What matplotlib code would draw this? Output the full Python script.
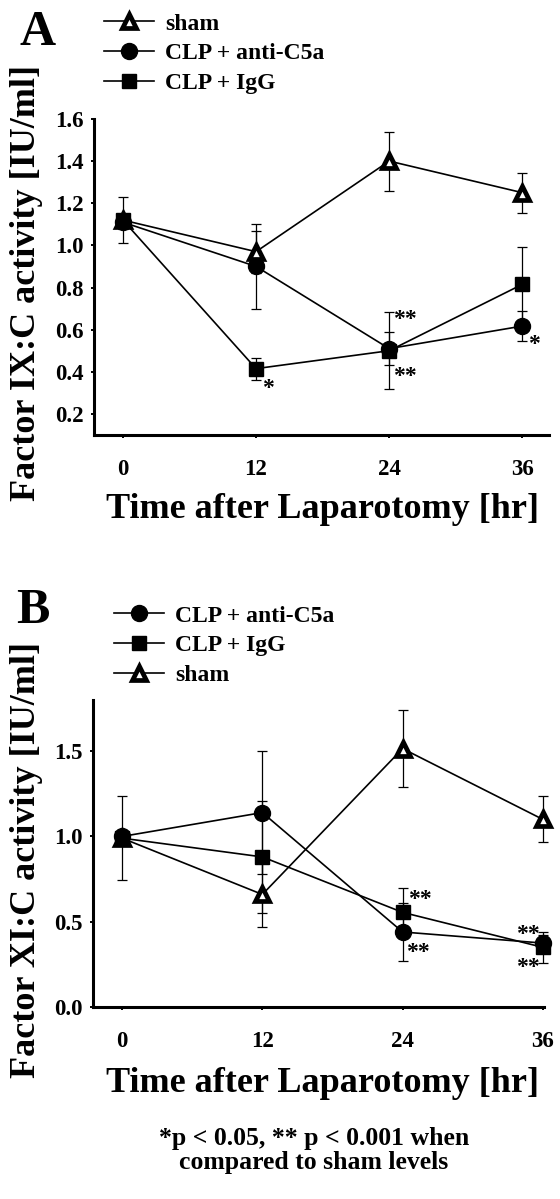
import matplotlib
matplotlib.use("Agg")
import matplotlib.pyplot as plt
from matplotlib.lines import Line2D

plt.rcParams["font.family"] = ["Liberation Serif", "DejaVu Serif"]
plt.rcParams["font.weight"] = "bold"

hours = [0, 12, 24, 36]

# panel A: factor IX:C
a_sham = [1.12, 0.97, 1.40, 1.25]
a_sham_err = [0.11, 0.10, 0.14, 0.095]
a_c5a = [1.11, 0.90, 0.51, 0.617]
a_c5a_err = [0.03, 0.20, 0.078, 0.072]
a_igg = [1.12, 0.415, 0.50, 0.815]
a_igg_err = [0.03, 0.052, 0.183, 0.175]

# panel B: factor XI:C
b_c5a = [1.0, 1.14, 0.44, 0.375]
b_c5a_err = [0.03, 0.36, 0.17, 0.05]
b_igg = [0.99, 0.88, 0.555, 0.35]
b_igg_err = [0.03, 0.33, 0.14, 0.09]
b_sham = [0.99, 0.66, 1.515, 1.10]
b_sham_err = [0.245, 0.19, 0.225, 0.135]

a_stars = [(13.1, 0.32, "*"), (25.4, 0.65, "**"), (25.4, 0.38, "**"), (37.0, 0.53, "*")]
b_stars = [(25.5, 0.63, "**"), (25.3, 0.318, "**"), (34.7, 0.424, "**"), (34.7, 0.229, "**")]

styles = {
    "sham": dict(marker="^", mfc="white", mec="black", mew=3.4, ms=10.5),
    "CLP + anti-C5a": dict(marker="o", mfc="black", mec="black", mew=1, ms=11.5),
    "CLP + IgG": dict(marker="s", mfc="black", mec="black", mew=1, ms=10.5),
}


def draw(ax, y, err, name):
    # error bars first, thin caps, then line with markers on top
    ax.errorbar(hours, y, yerr=err, fmt="none", ecolor="black", elinewidth=0.9,
                capsize=3.9, capthick=0.9, clip_on=False, zorder=2)
    ax.plot(hours, y, color="black", lw=1.2, clip_on=False, zorder=3,
            **styles[name])


def handle(name):
    return Line2D([], [], color="black", lw=1.2, **styles[name])


def style_axes(ax):
    for s in ["top", "right"]:
        ax.spines[s].set_visible(False)
    for s in ["left", "bottom"]:
        ax.spines[s].set_linewidth(2.2)
    ax.tick_params(direction="out", length=2.5, width=1.4, labelsize=16.5)
    ax.tick_params(axis="x", pad=15)
    ax.tick_params(axis="y", pad=5)
    ax.set_xticks(hours)
    ax.set_xticklabels([str(h) for h in hours])


fig = plt.figure(figsize=(5.6, 11.99), dpi=100)

# ---- panel A
axA = fig.add_axes([94 / 560, 0.6372, 455 / 560, 0.2636])
draw(axA, a_sham, a_sham_err, "sham")
draw(axA, a_c5a, a_c5a_err, "CLP + anti-C5a")
draw(axA, a_igg, a_igg_err, "CLP + IgG")
axA.set_xlim(-2.6, 38.4)
axA.set_ylim(0.1, 1.6)
axA.set_yticks([0.2, 0.4, 0.6, 0.8, 1.0, 1.2, 1.4, 1.6])
axA.set_yticklabels(["0.2", "0.4", "0.6", "0.8", "1.0", "1.2", "1.4", "1.6"])
style_axes(axA)
for x, y, t in a_stars:
    axA.text(x, y, t, fontsize=17, ha="center", va="center")
fig.text(27 / 560, 1 - 283 / 1199, "Factor IX:C activity [IU/ml]", rotation=90,
         fontsize=26, ha="center", va="center")
fig.text(323 / 560, 1 - 510 / 1199, "Time after Laparotomy [hr]", fontsize=26,
         ha="center", va="center")
fig.text(20 / 560, 1 - 45 / 1199, "A", fontsize=36, ha="left", va="baseline")
names = ["sham", "CLP + anti-C5a", "CLP + IgG"]
fig.legend([handle(n) for n in names], names, loc="upper left",
           bbox_to_anchor=(104 / 560, 1 - 13 / 1199), frameon=False, fontsize=17,
           handlelength=2.1, handletextpad=0.5, labelspacing=0.35,
           borderpad=0, borderaxespad=0)

# ---- panel B
axB = fig.add_axes([93 / 560, 0.1601, 451 / 560, 0.2561])
draw(axB, b_sham, b_sham_err, "sham")
draw(axB, b_igg, b_igg_err, "CLP + IgG")
draw(axB, b_c5a, b_c5a_err, "CLP + anti-C5a")
axB.set_xlim(-2.49, 36.1)
axB.set_ylim(0, 1.8)
axB.set_yticks([0.0, 0.5, 1.0, 1.5])
axB.set_yticklabels(["0.0", "0.5", "1.0", "1.5"])
style_axes(axB)
for x, y, t in b_stars:
    axB.text(x, y, t, fontsize=17, ha="center", va="center")
fig.text(27 / 560, 1 - 860 / 1199, "Factor XI:C activity [IU/ml]", rotation=90,
         fontsize=26, ha="center", va="center")
fig.text(323 / 560, 1 - 1083 / 1199, "Time after Laparotomy [hr]", fontsize=26,
         ha="center", va="center")
fig.text(16 / 560, 1 - 623 / 1199, "B", fontsize=36, ha="left", va="baseline")
namesB = ["CLP + anti-C5a", "CLP + IgG", "sham"]
fig.legend([handle(n) for n in namesB], namesB, loc="upper left",
           bbox_to_anchor=(114 / 560, 1 - 605 / 1199), frameon=False, fontsize=17,
           handlelength=2.1, handletextpad=0.5, labelspacing=0.35,
           borderpad=0, borderaxespad=0)

fig.text(314 / 560, 1 - 1138 / 1199, "*p < 0.05, ** p < 0.001 when", fontsize=18.5,
         ha="center", va="center")
fig.text(314 / 560, 1 - 1162 / 1199, "compared to sham levels", fontsize=18.5,
         ha="center", va="center")

fig.savefig("out.png", dpi=100)
